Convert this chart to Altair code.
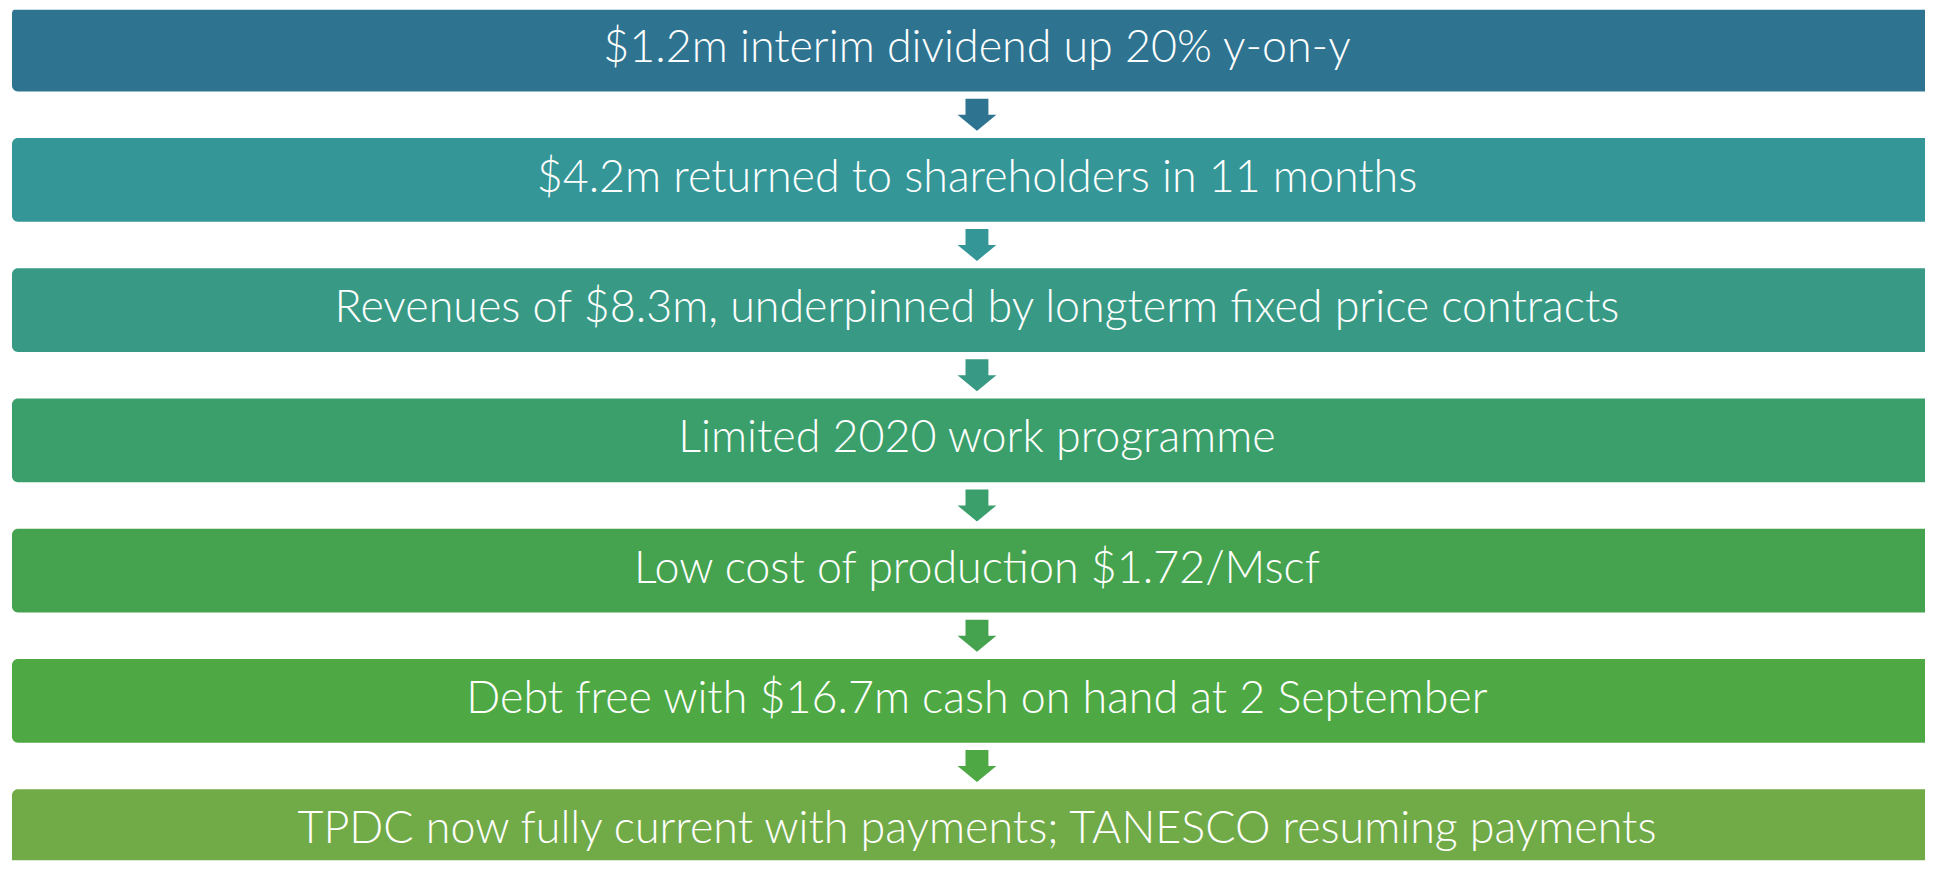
import altair as alt
import pandas as pd

labels = [
    "$1.2m interim dividend up 20% y-on-y",
    "$4.2m returned to shareholders in 11 months",
    "Revenues of $8.3m, underpinned by longterm fixed price contracts",
    "Limited 2020 work programme",
    "Low cost of production $1.72/Mscf",
    "Debt free with $16.7m cash on hand at 2 September",
    "TPDC now fully current with payments; TANESCO resuming payments",
]
colors = ["#2E7491", "#349696", "#389A85", "#3B9F6B", "#45A34F", "#4EA944", "#71AB48"]
rows = list(range(len(labels)))
box_frac = 0.642  # box height relative to row step

boxes = pd.DataFrame({
    "row": rows,
    "label": labels,
    "color": colors,
    "top": rows,
    "bottom": [r + box_frac for r in rows],
    "mid": [r + box_frac / 2 for r in rows],
    "x0": [0.0] * len(rows),
    "x1": [1.0] * len(rows),
    "xc": [0.5] * len(rows),
})
arrows = pd.DataFrame({
    "row": rows[:-1],
    "color": colors[:-1],
    "ymid": [r + box_frac + (1 - box_frac) / 2 for r in rows[:-1]],
    "xc": [0.5] * (len(rows) - 1),
})

W, H = 1925, 854
step = 130.8
y0 = 2 / step
y1 = (H + 2) / step
xunit = 1938.0

xs = alt.Scale(domain=[-4 / xunit, (W - 4) / xunit], range=[0, W], nice=False, zero=False)
ys = alt.Scale(domain=[y0, y1], range=[0, H], nice=False, zero=False)

base = alt.Chart(boxes)
rects = base.mark_rect(cornerRadius=6, clip=True).encode(
    x=alt.X("x0:Q", scale=xs, axis=None),
    x2="x1:Q",
    y=alt.Y("top:Q", scale=ys, axis=None),
    y2="bottom:Q",
    color=alt.Color("color:N", scale=None),
)
texts = base.mark_text(
    font="Lato Light, Lato", fontWeight=300, fontSize=45, color="white",
    align="center", baseline="middle", dy=-2,
).encode(
    x=alt.X("xc:Q", scale=xs, axis=None),
    y=alt.Y("mid:Q", scale=ys, axis=None),
    text="label:N",
)
arrow_path = "M-0.295,-0.41 L0.295,-0.41 L0.295,0 L0.5,0 L0,0.41 L-0.5,0 L-0.295,0 Z"
arrs = alt.Chart(arrows).mark_point(
    shape=arrow_path, filled=True, size=6084, opacity=1, strokeWidth=0,
).encode(
    x=alt.X("xc:Q", scale=xs, axis=None),
    y=alt.Y("ymid:Q", scale=ys, axis=None),
    color=alt.Color("color:N", scale=None),
)

chart = (rects + texts + arrs).properties(
    width=W, height=H, padding=0, background="white",
).configure_view(stroke=None, strokeWidth=0)

chart.save("out.html", embed_options={"renderer": "svg", "actions": False})
